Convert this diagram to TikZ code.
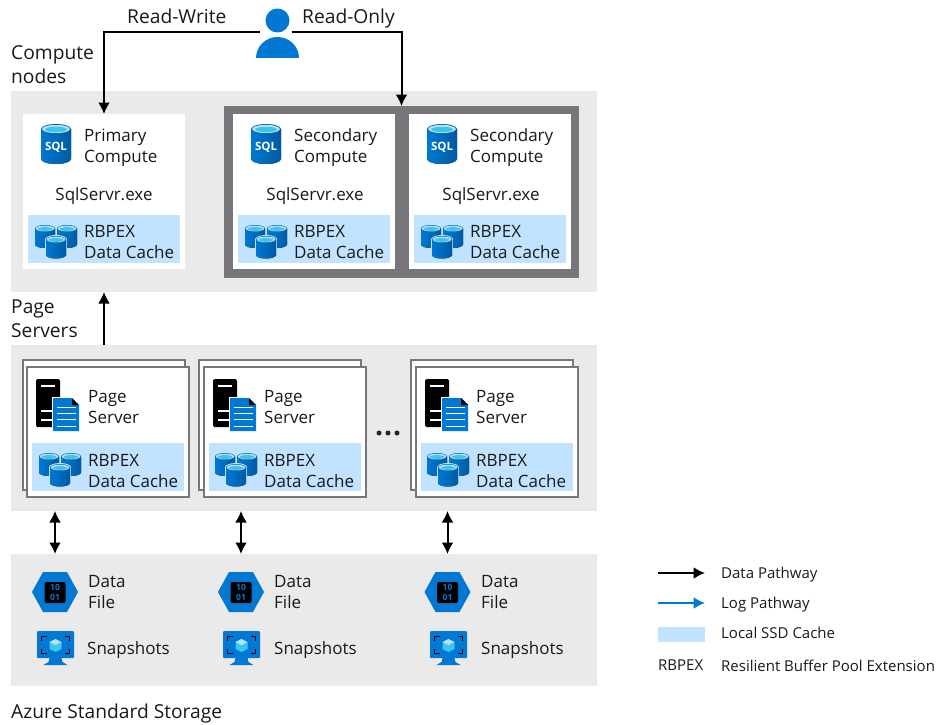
\documentclass[tikz,border=0pt]{standalone}
\usepackage{fontspec}
\setmainfont{Open Sans}
\usetikzlibrary{arrows.meta}

\definecolor{panelgray}{HTML}{EAEAEA}
\definecolor{framegray}{HTML}{77767B}
\definecolor{cacheblue}{HTML}{C2E3FF}
\definecolor{azureblue}{HTML}{0078D4}
\definecolor{azuredark}{HTML}{005BA1}
\definecolor{rimblue}{HTML}{B4DFF5}
\definecolor{topcyan}{HTML}{3CC6EA}

\newcommand{\cylbody}[5]{
\fill[left color=azureblue,right color=azuredark] (#1-#3,#2) -- ++(0,#5) arc (180:360:#3pt and #4pt) -- ++(0,-#5) -- cycle;
\fill[azuredark] (#1,#2) ellipse (#3pt and #4pt);
\fill[rimblue] (#1,#2) ellipse ({#3*.93pt} and {#4*.85pt});
\fill[topcyan] (#1,#2+.5) ellipse ({#3*.72pt} and {#4*.55pt});
}

\tikzset{
panel/.style={fill=panelgray,inner sep=0,outer sep=0,anchor=north west},
whitebox/.style={fill=white,inner sep=0,outer sep=0,anchor=north west,minimum width=162pt,minimum height=155pt},
framebox/.style={fill=framegray,inner sep=0,outer sep=0,anchor=north west},
pagebox/.style={fill=white,draw=framegray,line width=2pt,inner sep=0,outer sep=0,anchor=north west,minimum width=162pt,minimum height=130pt},
cachebox/.style={fill=cacheblue,inner sep=0,outer sep=0,anchor=north west,minimum width=152pt,minimum height=48pt},
lbl/.style={font=\fontsize{17}{21}\selectfont,align=left,anchor=west,inner sep=0,text=black!90,yshift=-1pt},
biglbl/.style={font=\fontsize{19.2}{24}\selectfont,align=left,anchor=west,inner sep=0,text=black!90,yshift=-1pt},
leglbl/.style={font=\fontsize{15}{18}\selectfont,anchor=west,inner sep=0,text=black!90},
dotmark/.style={circle,fill=black!85,inner sep=0,minimum size=5pt},
sqlicon/.pic={
\cylbody{0}{5}{15}{5}{30}
\node[font=\bfseries\fontsize{11.5}{12}\selectfont,text=white,inner sep=0] (-t) at (0,23) {SQL};
},
cacheicon/.pic={
\cylbody{-11}{3.5}{10}{3.5}{16}
\cylbody{11}{3.5}{10}{3.5}{16}
\fill[cacheblue] (0,14.5) ellipse (11pt and 4.5pt);
\fill[cacheblue] (-11,14.5) rectangle (11,30);
\cylbody{0}{14.5}{10}{3.5}{15.5}
},
pageicon/.pic={
\fill[black,rounded corners=1.5pt] (0,0) rectangle (24,48);
\fill[white] (5,6) rectangle (19,8);
\fill[white] (5,31) rectangle (17,33);
\fill[white] (5,40) rectangle (17,42);
\fill[white] (15.5,17.5) rectangle (44,54);
\fill[azureblue] (17,19) -- (36,19) -- (43,26) -- (43,52) -- (17,52) -- cycle;
\fill[black] (36,19) -- (43,26) -- (36,26) -- cycle;
\fill[white] (21,27.5) rectangle (40,28.7);
\fill[white] (21,33.5) rectangle (40,34.7);
\fill[white] (21,40) rectangle (40,41.2);
\fill[white] (21,46.5) rectangle (40,47.7);
},
fileicon/.pic={
\fill[azureblue] (-23,0) -- (-12,-20) -- (12,-20) -- (23,0) -- (12,20) -- (-12,20) -- cycle;
\fill[black,rounded corners=2pt] (-10.5,-10) rectangle (10.5,11);
\node[font=\bfseries\fontsize{8.5}{9}\selectfont,text=azureblue,inner sep=0] (-a) at (0,-4.5) {10};
\node[font=\bfseries\fontsize{8.5}{9}\selectfont,text=azureblue,inner sep=0] (-b) at (0,5) {01};
},
snapicon/.pic={
\fill[azureblue,rounded corners=1pt] (-18.5,-17) rectangle (18.5,10);
\fill[azureblue] (-6,10) -- (6,10) -- (7,14) -- (12,17) -- (-12,17) -- (-7,14) -- cycle;
\draw[black,line width=1.2pt] (-14,-7) -- (-14,-11.5) -- (-9,-11.5);
\draw[black,line width=1.2pt] (14,-7) -- (14,-11.5) -- (9,-11.5);
\draw[black,line width=1.2pt] (-14,1) -- (-14,5.5) -- (-9,5.5);
\draw[black,line width=1.2pt] (14,1) -- (14,5.5) -- (9,5.5);
\fill[topcyan] (0,-9) -- (6,-6) -- (6,1) -- (0,4) -- (-6,1) -- (-6,-6) -- cycle;
\fill[rimblue] (0,-9) -- (6,-6) -- (0,-3) -- (-6,-6) -- cycle;
},
personicon/.pic={
\fill[azureblue] (0,-12.5) circle (12pt);
\fill[azureblue] (-21.5,25) arc (180:0:21.5pt and 21pt) -- cycle;
}
}

\begin{document}
\begin{tikzpicture}[x=1pt,y=-1pt,>={Latex[length=11.5pt,width=12pt]}]
\useasboundingbox (0,0) rectangle (942,725);

\node[panel,minimum width=586pt,minimum height=201pt] (computepanel) at (11,91) {};
\node[panel,minimum width=586pt,minimum height=166pt] (pagepanel) at (11,345) {};
\node[panel,minimum width=586pt,minimum height=132pt] (storagepanel) at (11,554) {};

\node[biglbl] (computelabel) at (11,64) {Compute\\nodes};
\node[biglbl] (pagelabel) at (11,318) {Page\\Servers};
\node[biglbl] (storagelabel) at (11,712.5) {Azure Standard Storage};
\node[biglbl] (rwlabel) at (127,15) {Read-Write};
\node[biglbl] (rolabel) at (302,17.5) {Read-Only};

\node[inner sep=0,outer sep=0,minimum width=32pt,minimum height=10pt] (user) at (276,32.5) {};
\pic (usericon) at (277.5,33) {personicon};

\node[framebox,minimum width=355pt,minimum height=172pt] (secondaryframe) at (224,106) {};

\node[whitebox] (primary) at (23,114) {};
\pic (primarysql) at (56,124) {sqlicon};
\node[lbl] (primarytext) at (84,147) {Primary\\Compute};
\node[lbl,anchor=center] (primaryexe) at (104,195) {SqlServr.exe};
\node[cachebox] (primarycache) at (28,215) {};
\pic (primaryicon) at (56,225) {cacheicon};
\node[lbl] (primarycachetext) at (84,241.5) {RBPEX\\Data Cache};

\node[whitebox] (secondaryA) at (233,114) {};
\pic (secondaryAsql) at (266,124) {sqlicon};
\node[lbl] (secondaryAtext) at (294,147) {Secondary\\Compute};
\node[lbl,anchor=center] (secondaryAexe) at (315,195) {SqlServr.exe};
\node[cachebox] (secondaryAcache) at (238,215) {};
\pic (secondaryAicon) at (266,225) {cacheicon};
\node[lbl] (secondaryAcachetext) at (294,241.5) {RBPEX\\Data Cache};

\node[whitebox] (secondaryB) at (409,114) {};
\pic (secondaryBsql) at (442,124) {sqlicon};
\node[lbl] (secondaryBtext) at (470,147) {Secondary\\Compute};
\node[lbl,anchor=center] (secondaryBexe) at (491,195) {SqlServr.exe};
\node[cachebox] (secondaryBcache) at (414,215) {};
\pic (secondaryBicon) at (442,225) {cacheicon};
\node[lbl] (secondaryBtextb) at (470,241.5) {RBPEX\\Data Cache};

\node[pagebox] (pageAback) at (23,360) {};
\node[pagebox] (pageA) at (27,367) {};
\pic (pageAicon) at (36,379) {pageicon};
\node[lbl] (pageAtext) at (88,406.5) {Page\\Server};
\node[cachebox] (pageAcache) at (32,443) {};
\pic (pageAcacheicon) at (60,453) {cacheicon};
\node[lbl] (pageAcachetext) at (88,470.5) {RBPEX\\Data Cache};

\node[pagebox] (pageBback) at (199,360) {};
\node[pagebox] (pageB) at (204,367) {};
\pic (pageBicon) at (213,379) {pageicon};
\node[lbl] (pageBtext) at (264,406.5) {Page\\Server};
\node[cachebox] (pageBcache) at (209,443) {};
\pic (pageBcacheicon) at (236,453) {cacheicon};
\node[lbl] (pageBcachetext) at (264,470.5) {RBPEX\\Data Cache};

\node[dotmark] (dotA) at (379,433) {};
\node[dotmark] (dotB) at (388,433) {};
\node[dotmark] (dotC) at (397,433) {};

\node[pagebox] (pageCback) at (411,360) {};
\node[pagebox] (pageC) at (416,367) {};
\pic (pageCicon) at (425,379) {pageicon};
\node[lbl] (pageCtext) at (476,406.5) {Page\\Server};
\node[cachebox] (pageCcache) at (421,443) {};
\pic (pageCcacheicon) at (448,453) {cacheicon};
\node[lbl] (pageCcachetext) at (476,470.5) {RBPEX\\Data Cache};

\pic (fileAicon) at (55,592) {fileicon};
\node[lbl] (fileAtext) at (88,591.5) {Data\\File};
\pic (snapAicon) at (55.5,648) {snapicon};
\node[lbl] (snapAtext) at (87,649) {Snapshots};
\coordinate (fileA) at (55,592);

\pic (fileBicon) at (241,592) {fileicon};
\node[lbl] (fileBtext) at (274,591.5) {Data\\File};
\pic (snapBicon) at (241.5,648) {snapicon};
\node[lbl] (snapBtext) at (274,649) {Snapshots};
\coordinate (fileB) at (241,592);

\pic (fileCicon) at (447.5,592) {fileicon};
\node[lbl] (fileCtext) at (481,591.5) {Data\\File};
\pic (snapCicon) at (448.5,648) {snapicon};
\node[lbl] (snapCtext) at (481,649) {Snapshots};
\coordinate (fileC) at (447.5,592);

\draw[->,line width=2pt] (user.west) -| (primary.north);
\draw[->,line width=2pt] (user.east) -| (secondaryframe.north);
\draw[->,line width=2pt] (pagepanel.north -| primary.north) -- (computepanel.south -| primary.north);
\draw[<->,line width=2pt] (pagepanel.south -| fileA) -- (storagepanel.north -| fileA);
\draw[<->,line width=2pt] (pagepanel.south -| fileB) -- (storagepanel.north -| fileB);
\draw[<->,line width=2pt] (pagepanel.south -| fileC) -- (storagepanel.north -| fileC);

\coordinate (dataA) at (658,573);
\coordinate (dataB) at (705,573);
\draw[->,line width=2pt] (dataA) -- (dataB);
\node[leglbl] (datalabel) at (721,575) {Data Pathway};
\coordinate (logA) at (658,603);
\coordinate (logB) at (705,603);
\draw[->,line width=2pt,azureblue] (logA) -- (logB);
\node[leglbl] (loglabel) at (721,605) {Log Pathway};
\node[panel,fill=cacheblue,minimum width=47pt,minimum height=15pt] (ssdkey) at (658,627) {};
\node[leglbl] (ssdlabel) at (721,633) {Local SSD Cache};
\node[leglbl] (rbpexkey) at (658,665.5) {RBPEX};
\node[leglbl] (rbpexlabel) at (721,665.5) {Resilient Buffer Pool Extension};
\end{tikzpicture}
\end{document}
